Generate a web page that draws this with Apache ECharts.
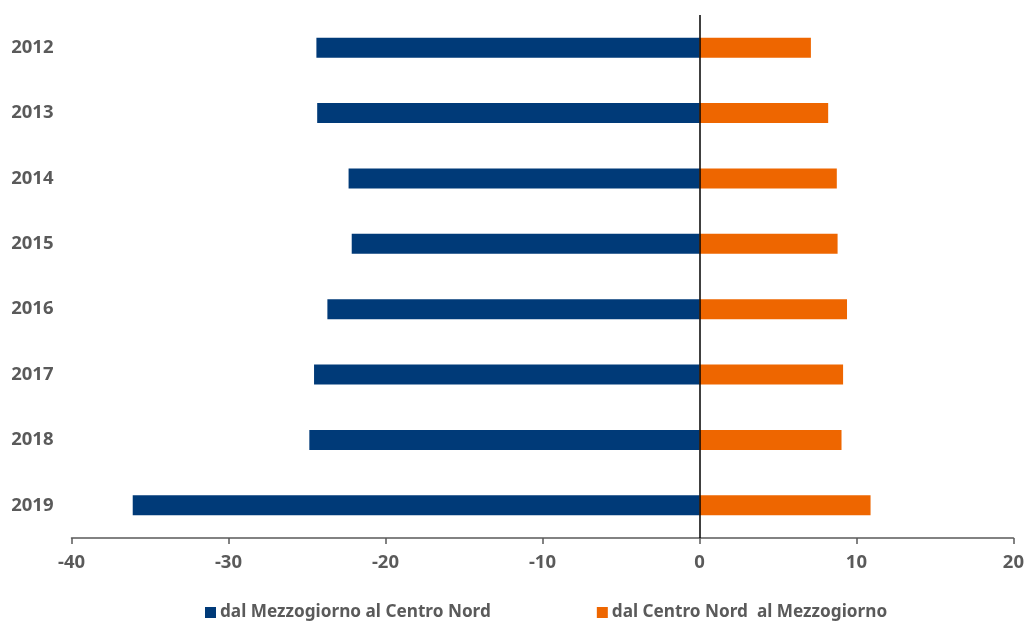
<!DOCTYPE html>
<html>
<head>
<meta charset="utf-8">
<style>
  html, body { margin: 0; padding: 0; background: #fff; }
  #chart { width: 1027px; height: 621px; }
</style>
<script src="https://cdn.jsdelivr.net/npm/echarts@6/dist/echarts.min.js"></script>
</head>
<body>
<div id="chart"></div>
<script>
// Years shown on the vertical axis (top to bottom)
const years = ['2012', '2013', '2014', '2015', '2016', '2017', '2018', '2019'];
// Flows from the South to the Centre-North (negative side)
const southToNorth = [-24.4, -24.35, -22.35, -22.15, -23.7, -24.55, -24.85, -36.1];
// Flows from the Centre-North to the South (positive side)
const northToSouth = [7.1, 8.2, 8.75, 8.8, 9.4, 9.15, 9.05, 10.9];
const seriesNames = ['dal Mezzogiorno al Centro Nord', 'dal Centro Nord  al Mezzogiorno'];
const xTicks = { min: -40, max: 20, interval: 10 };

const labelFont = {
  fontFamily: 'Noto Sans',
  fontWeight: 'bold',
  fontSize: 18.5,
  color: '#5a5a5a'
};

const chart = echarts.init(document.getElementById('chart'), null, { renderer: 'canvas' });
chart.setOption({
  animation: false,
  backgroundColor: '#ffffff',
  grid: { left: 71.5, right: 12.5, top: 15, bottom: 83, containLabel: false },
  legend: {
    data: seriesNames,
    left: 205,
    top: 604,
    padding: 0,
    icon: 'rect',
    itemWidth: 11,
    itemHeight: 11,
    itemGap: 106,
    textStyle: Object.assign({}, labelFont, { fontSize: 17.2, padding: [0, 0, 0, -1] })
  },
  xAxis: {
    type: 'value',
    min: xTicks.min,
    max: xTicks.max,
    interval: xTicks.interval,
    axisLine: { show: true, onZero: false, lineStyle: { color: '#5a5a5a', width: 1.5 } },
    axisTick: { show: true, length: 6, lineStyle: { color: '#5a5a5a', width: 1.5 } },
    splitLine: { show: false },
    axisLabel: Object.assign({}, labelFont, { margin: 15 })
  },
  yAxis: {
    type: 'category',
    data: years,
    inverse: true,
    axisLine: { show: false },
    axisTick: { show: false },
    splitLine: { show: false },
    axisLabel: Object.assign({}, labelFont, { margin: 18 })
  },
  series: [
    {
      name: seriesNames[0],
      type: 'bar',
      stack: 'flow',
      barWidth: 20,
      itemStyle: { color: '#003a78' },
      data: southToNorth,
      markLine: {
        silent: true,
        symbol: 'none',
        label: { show: false },
        lineStyle: { color: '#000000', width: 1.5, type: 'solid' },
        data: [{ xAxis: 0 }]
      }
    },
    {
      name: seriesNames[1],
      type: 'bar',
      stack: 'flow',
      barWidth: 20,
      itemStyle: { color: '#ee6600' },
      data: northToSouth
    }
  ]
});
</script>
</body>
</html>
